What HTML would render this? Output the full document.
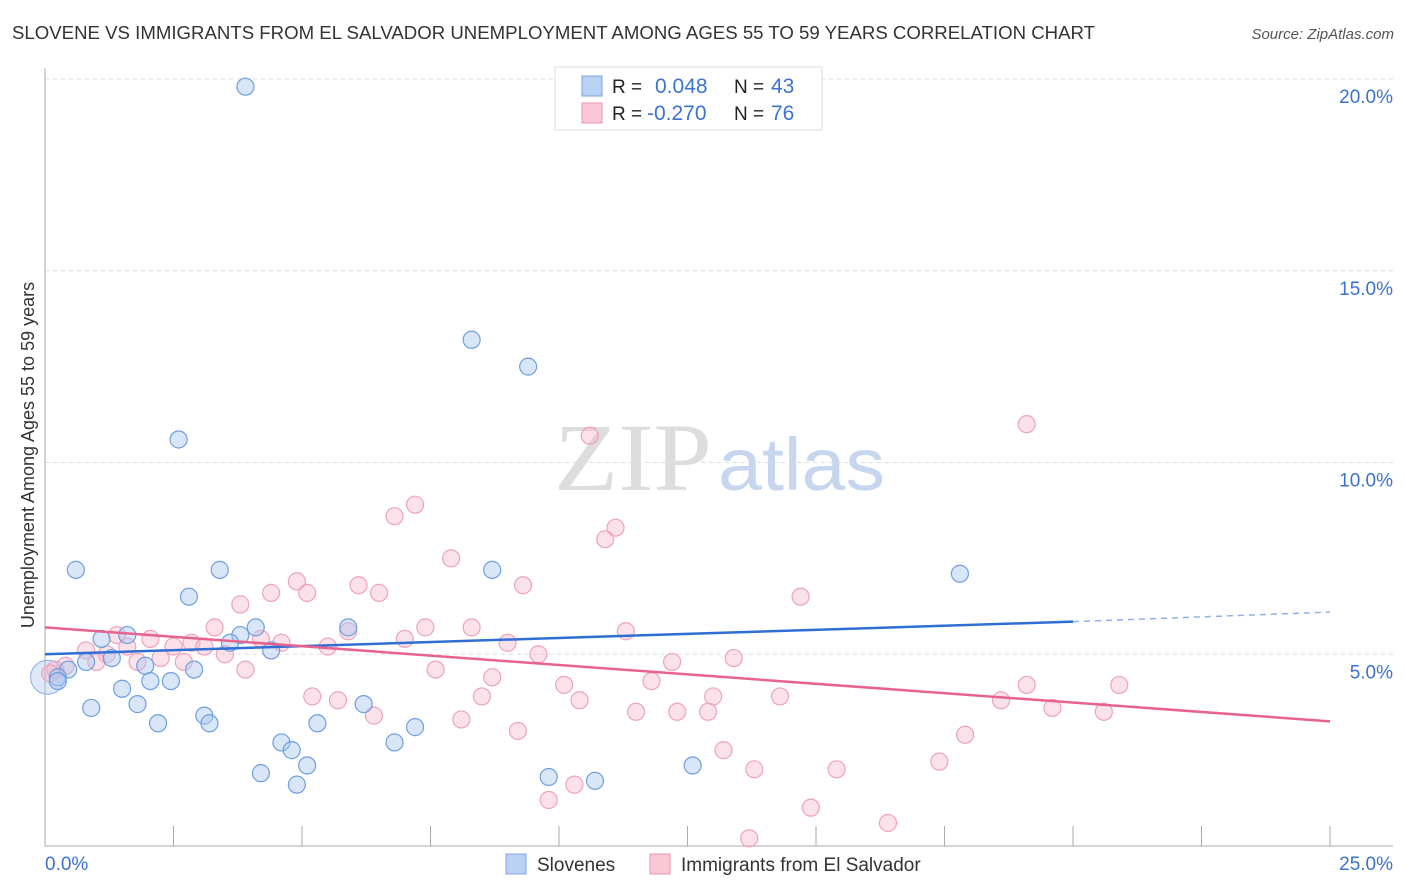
<!DOCTYPE html>
<html><head><meta charset="utf-8">
<style>
body{margin:0;background:#fff;font-family:"Liberation Sans",sans-serif;}
svg{display:block}
</style></head>
<body>
<svg id="chart" width="1406" height="892" xmlns="http://www.w3.org/2000/svg">
<text x="12" y="39" font-size="18" fill="#333" textLength="1083" lengthAdjust="spacingAndGlyphs">SLOVENE VS IMMIGRANTS FROM EL SALVADOR UNEMPLOYMENT AMONG AGES 55 TO 59 YEARS CORRELATION CHART</text>
<text x="1394" y="39" font-size="15" fill="#555" font-style="italic" text-anchor="end">Source: ZipAtlas.com</text>
<text x="0" y="0" transform="translate(34,455) rotate(-90)" font-size="18" fill="#333" text-anchor="middle">Unemployment Among Ages 55 to 59 years</text>
<g id="grid"></g>
<text x="712" y="490" font-size="96" fill="#ddd" font-family="Liberation Serif,serif" text-anchor="end" textLength="158" lengthAdjust="spacingAndGlyphs">ZIP</text>
<text x="718" y="490" font-size="74" fill="#c5d6ee" textLength="167" lengthAdjust="spacingAndGlyphs">atlas</text>
<g id="points"></g>
<g id="lines"></g>
<g>
<rect x="555" y="67" width="267" height="63" fill="#fff" stroke="#ddd"/>
<rect x="582" y="76" width="20" height="20" fill="#b9d2f3" stroke="#7aa6e0"/>
<rect x="582" y="103" width="20" height="20" fill="#f8c6d5" stroke="#eb97b1"/>
<text x="612" y="93" font-size="19" fill="#222">R = </text><text x="655" y="93" font-size="21" fill="#3a73d0">0.048</text>
<text x="734" y="93" font-size="19" fill="#222">N = </text><text x="771" y="93" font-size="21" fill="#3a73d0">43</text>
<text x="612" y="120" font-size="19" fill="#222">R = </text><text x="647" y="120" font-size="21" fill="#3a73d0">-0.270</text>
<text x="734" y="120" font-size="19" fill="#222">N = </text><text x="771" y="120" font-size="21" fill="#3a73d0">76</text>
</g>
<g>
<rect x="506" y="854" width="20" height="20" fill="#b9d2f3" stroke="#7aa6e0"/>
<text x="537" y="871" font-size="19" fill="#333">Slovenes</text>
<rect x="650" y="854" width="20" height="20" fill="#f8c6d5" stroke="#eb97b1"/>
<text x="681" y="871" font-size="19" fill="#333">Immigrants from El Salvador</text>
</g>
</svg>
<script>
const yTicks=[5,10,15,20];
const yTickLabels=["5.0%","10.0%","15.0%","20.0%"];
const xTickLabels=["0.0%","25.0%"];
const blueX=[3.9,8.3,9.4,2.6,0.6,3.4,2.8,8.7,17.8,1.6,1.1,4.1,3.8,5.9,3.6,4.4,0.8,1.3,1.95,2.9,0.45,0.25,1.5,2.05,2.45,0.9,1.8,6.2,3.1,3.2,2.2,5.3,7.2,4.6,4.8,6.8,5.1,4.2,4.9,9.8,10.7,12.6,0.25];
const blueY=[19.8,13.2,12.5,10.6,7.2,7.2,6.5,7.2,7.1,5.5,5.4,5.7,5.5,5.7,5.3,5.1,4.8,4.9,4.7,4.6,4.6,4.4,4.1,4.3,4.3,3.6,3.7,3.7,3.4,3.2,3.2,3.2,3.1,2.7,2.5,2.7,2.1,1.9,1.6,1.8,1.7,2.1,4.3];
const pinkX=[19.1,10.6,7.2,6.8,11.1,10.9,7.9,4.9,6.1,9.3,4.4,5.1,6.5,14.7,3.8,3.3,7.4,8.3,5.9,11.3,1.4,2.05,4.2,4.6,7.0,2.85,9.0,2.5,1.6,3.1,5.5,0.8,1.2,3.5,2.25,1.0,2.7,9.6,13.4,12.2,1.8,3.9,0.4,0.2,7.6,8.7,11.8,10.1,19.1,20.9,5.2,5.7,8.5,10.4,13.0,14.3,18.6,19.6,20.6,11.5,12.3,12.9,6.4,8.1,9.2,17.9,13.2,17.4,13.8,15.4,9.8,10.3,14.9,16.4,13.7,0.1];
const pinkY=[11.0,10.7,8.9,8.6,8.3,8.0,7.5,6.9,6.8,6.8,6.6,6.6,6.6,6.5,6.3,5.7,5.7,5.7,5.6,5.6,5.5,5.4,5.4,5.3,5.4,5.3,5.3,5.2,5.2,5.2,5.2,5.1,5.0,5.0,4.9,4.8,4.8,5.0,4.9,4.8,4.8,4.6,4.7,4.6,4.6,4.4,4.3,4.2,4.2,4.2,3.9,3.8,3.9,3.8,3.9,3.9,3.8,3.6,3.5,3.5,3.5,3.5,3.4,3.3,3.0,2.9,2.5,2.2,2.0,2.0,1.2,1.6,1.0,0.6,0.2,4.5];
const blueTrend=[[0,5.0],[20,5.85]], blueDash=[[20,5.85],[25,6.1]];
const pinkTrend=[[0,5.7],[25,3.25]];
const X=v=>45+v*51.4, Y=v=>846-v*38.35;
const NS="http://www.w3.org/2000/svg";
function mk(tag,attrs,parent){const e=document.createElementNS(NS,tag);for(const k in attrs)e.setAttribute(k,attrs[k]);parent.appendChild(e);return e;}
const grid=document.getElementById('grid');
yTicks.forEach((t,i)=>{
 const l=mk('line',{x1:45,x2:1393,y1:Y(t),y2:Y(t),stroke:'#ddd','stroke-dasharray':'4,4'},grid);
 
 
 const tx=mk('text',{x:1393,y:Y(t)+24,'font-size':19,fill:'#3a73d0','text-anchor':'end'},grid);
 tx.textContent=yTickLabels[i];
 
 
});
mk('line',{x1:45,x2:45,y1:68,y2:846,stroke:'#aaa'},grid);
mk('line',{x1:45,x2:1393,y1:846,y2:846,stroke:'#aaa'},grid);
for(let i=0;i<=10;i++){const x=X(i*2.5);const t=mk('line',{x1:x,x2:x,y1:826,y2:846,stroke:'#aaa'},grid);
 
 }
const xl0=mk('text',{x:45,y:870,'font-size':19,fill:'#3a73d0'},grid);xl0.textContent=xTickLabels[0];


const xl1=mk('text',{x:1393,y:870,'font-size':19,fill:'#3a73d0','text-anchor':'end'},grid);xl1.textContent=xTickLabels[1];


const pts=document.getElementById('points');
const big=mk('circle',{cx:X(0.05),cy:Y(4.4),r:17,fill:'rgba(160,190,235,0.35)',stroke:'#8aaee6'},pts);


pinkX.forEach((v,i)=>{const c=mk('circle',{cx:X(v),cy:Y(pinkY[i]),r:8.5,fill:'rgba(246,180,200,0.4)',stroke:'#eea3bb','stroke-width':1.2},pts);
 
 });
blueX.forEach((v,i)=>{const c=mk('circle',{cx:X(v),cy:Y(blueY[i]),r:8.5,fill:'rgba(170,200,240,0.45)',stroke:'#6e9fe0','stroke-width':1.2},pts);
 
 });
const ln=document.getElementById('lines');
const b=mk('line',{x1:X(blueTrend[0][0]),y1:Y(blueTrend[0][1]),x2:X(blueTrend[1][0]),y2:Y(blueTrend[1][1]),stroke:'#2f6fd3','stroke-width':2.5},ln);


const bd=mk('line',{x1:X(blueDash[0][0]),y1:Y(blueDash[0][1]),x2:X(blueDash[1][0]),y2:Y(blueDash[1][1]),stroke:'#8fb0e6','stroke-width':1.5,'stroke-dasharray':'6,5'},ln);


const p=mk('line',{x1:X(pinkTrend[0][0]),y1:Y(pinkTrend[0][1]),x2:X(pinkTrend[1][0]),y2:Y(pinkTrend[1][1]),stroke:'#e8628f','stroke-width':2.5},ln);


</script>
</body></html>
